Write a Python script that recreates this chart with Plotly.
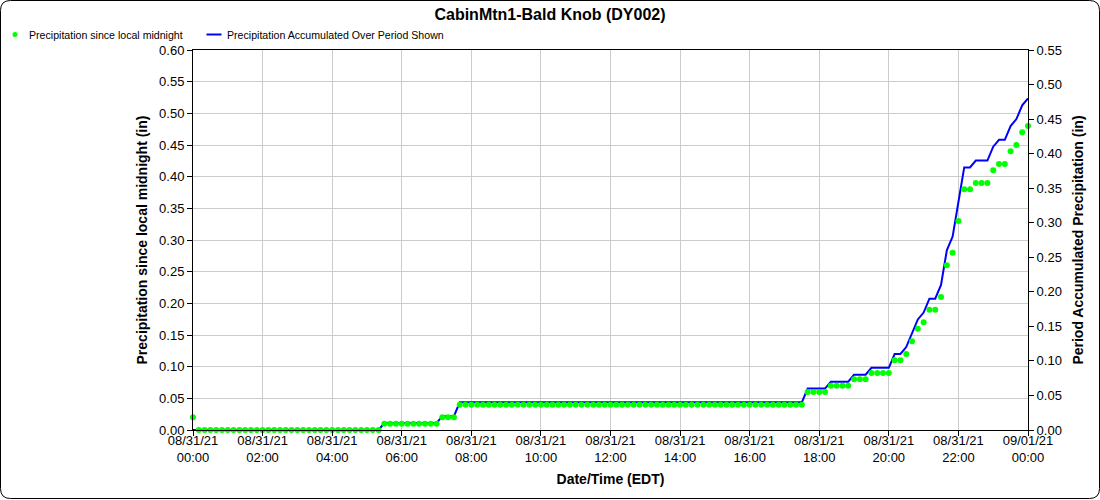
import pandas as pd
import plotly.graph_objects as go

# ---------------- data ----------------
start_time = "2021-08-31 00:00"
n_points = 145          # 10-minute observations, 00:00 -> next 00:00
times = pd.date_range(start_time, periods=n_points, freq="10min")

# Precipitation since local midnight (in), one row per hour (6 obs/hour)
since_midnight = (
    [0.02, 0.00, 0.00, 0.00, 0.00, 0.00] +                     # 00
    [0.00] * 24 +                                              # 01-04
    [0.00, 0.00, 0.00, 0.01, 0.01, 0.01] +                     # 05
    [0.01, 0.01, 0.01, 0.01, 0.01, 0.01] +                     # 06
    [0.01, 0.02, 0.02, 0.02, 0.04, 0.04] +                     # 07
    [0.04] * 54 +                                              # 08-16
    [0.04, 0.04, 0.04, 0.04, 0.06, 0.06] +                     # 17
    [0.06, 0.06, 0.07, 0.07, 0.07, 0.07] +                     # 18
    [0.08, 0.08, 0.08, 0.09, 0.09, 0.09] +                     # 19
    [0.09, 0.11, 0.11, 0.12, 0.14, 0.16] +                     # 20
    [0.17, 0.19, 0.19, 0.21, 0.26, 0.28] +                     # 21
    [0.33, 0.38, 0.38, 0.39, 0.39, 0.39] +                     # 22
    [0.41, 0.42, 0.42, 0.44, 0.45, 0.47] +                     # 23
    [0.48]                                                     # 00 next day
)

# Precipitation accumulated over the period shown (in)
accumulated = (
    [0.00, 0.00, 0.00, 0.00, 0.00, 0.00] +
    [0.00] * 24 +
    [0.00, 0.00, 0.00, 0.01, 0.01, 0.01] +
    [0.01, 0.01, 0.01, 0.01, 0.01, 0.01] +
    [0.01, 0.02, 0.02, 0.02, 0.04, 0.04] +
    [0.04] * 54 +
    [0.04, 0.04, 0.04, 0.04, 0.06, 0.06] +
    [0.06, 0.06, 0.07, 0.07, 0.07, 0.07] +
    [0.08, 0.08, 0.08, 0.09, 0.09, 0.09] +
    [0.09, 0.11, 0.11, 0.12, 0.14, 0.16] +
    [0.17, 0.19, 0.19, 0.21, 0.26, 0.28] +
    [0.33, 0.38, 0.38, 0.39, 0.39, 0.39] +
    [0.41, 0.42, 0.42, 0.44, 0.45, 0.47] +
    [0.48]
)

title_text = "CabinMtn1-Bald Knob (DY002)"
name_green = "Precipitation since local midnight"
name_blue = "Precipitation Accumulated Over Period Shown"
left_title = "Precipitation since local midnight (in)"
right_title = "Period Accumulated Precipitation (in)"
x_title = "Date/Time (EDT)"
left_range = [0, 0.60]
right_range = [0, 0.55]
x_range = ["2021-08-31 00:00", "2021-09-01 00:00"]

# ---------------- styling ----------------
FONT = "Liberation Sans, Arial, sans-serif"
GREEN = "#00ff00"
BLUE = "#0000ff"
W, H = 1100, 500
ML, MR, MT, MB = 193, 72, 50, 70
PW, PH = W - ML - MR, H - MT - MB


def px(x):
    return (x - ML) / PW


def py(y):
    return (H - MB - y) / PH


fig = go.Figure()
fig.add_trace(go.Scatter(
    x=times, y=accumulated, name=name_blue, mode="lines",
    line=dict(color=BLUE, width=2), yaxis="y", showlegend=False,
    cliponaxis=False,
))
fig.add_trace(go.Scatter(
    x=times, y=since_midnight, name=name_green, mode="markers",
    marker=dict(color=GREEN, size=6, line=dict(width=0)), yaxis="y2",
    showlegend=False, cliponaxis=False,
))

axis_common = dict(
    showline=True, linecolor="black", linewidth=1,
    ticks="outside", ticklen=5, tickcolor="black",
    tickfont=dict(family=FONT, size=13, color="black"),
    zeroline=False,
)

fig.update_layout(
    width=W, height=H,
    margin=dict(l=ML, r=MR, t=MT, b=MB),
    paper_bgcolor="white", plot_bgcolor="white",
    font=dict(family=FONT, color="black"),
    title=dict(text="<b>" + title_text + "</b>", x=0.5, xref="container",
               xanchor="center", y=1 - 14 / H, yref="container",
               yanchor="middle", font=dict(family=FONT, size=16, color="black")),
    xaxis=dict(
        **axis_common, mirror=True,
        type="date", range=x_range, dtick=2 * 3600 * 1000,
        tick0="2021-08-31 00:00", tickformat="%m/%d/%y<br>%H:%M",
        ticklabelstandoff=-7,
        showgrid=True, gridcolor="#cccccc", gridwidth=1,
        title=dict(text="<b>" + x_title + "</b>", standoff=10,
                   font=dict(family=FONT, size=14, color="black")),
    ),
    yaxis=dict(
        **axis_common, side="right", range=right_range, dtick=0.05,
        tickformat=".2f", showgrid=False,
        title=dict(text="<b>" + right_title + "</b>", standoff=12,
                   font=dict(family=FONT, size=14, color="black")),
    ),
    yaxis2=dict(
        **axis_common, side="left", overlaying="y", range=left_range,
        dtick=0.05, tickformat=".2f",
        showgrid=True, gridcolor="#cccccc", gridwidth=1,
        title=dict(text="<b>" + left_title + "</b>", standoff=8,
                   font=dict(family=FONT, size=14, color="black")),
    ),
)

# rounded outer border
x0, y0, x1, y1, r = 0.5, 0.5, W - 0.5, H - 1.5, 10
path = (
    f"M {px(x0 + r)},{py(y0)} L {px(x1 - r)},{py(y0)} "
    f"Q {px(x1)},{py(y0)} {px(x1)},{py(y0 + r)} "
    f"L {px(x1)},{py(y1 - r)} Q {px(x1)},{py(y1)} {px(x1 - r)},{py(y1)} "
    f"L {px(x0 + r)},{py(y1)} Q {px(x0)},{py(y1)} {px(x0)},{py(y1 - r)} "
    f"L {px(x0)},{py(y0 + r)} Q {px(x0)},{py(y0)} {px(x0 + r)},{py(y0)} Z"
)
fig.add_shape(type="path", path=path, xref="paper", yref="paper",
              line=dict(color="black", width=1), layer="above")

# legend (custom, top-left)
leg_y = 34.5
fig.add_shape(type="circle", xref="paper", yref="paper",
              xsizemode="pixel", ysizemode="pixel",
              xanchor=px(15), yanchor=py(leg_y),
              x0=-2.5, x1=2.5, y0=-2.5, y1=2.5,
              fillcolor=GREEN, line=dict(width=0))
fig.add_shape(type="line", xref="paper", yref="paper",
              x0=px(206.5), x1=px(221.5), y0=py(leg_y), y1=py(leg_y),
              line=dict(color=BLUE, width=2))
fig.add_annotation(x=px(27), y=py(leg_y), xref="paper", yref="paper",
                   text=name_green, showarrow=False, xanchor="left",
                   yanchor="middle", font=dict(family=FONT, size=10.6, color="black"))
fig.add_annotation(x=px(225), y=py(leg_y), xref="paper", yref="paper",
                   text=name_blue, showarrow=False, xanchor="left",
                   yanchor="middle", font=dict(family=FONT, size=10.6, color="black"))

fig.write_html(
    "out.html",
    config={"displayModeBar": False},
    post_script="document.body.style.margin='0';document.body.style.overflow='hidden';",
)
